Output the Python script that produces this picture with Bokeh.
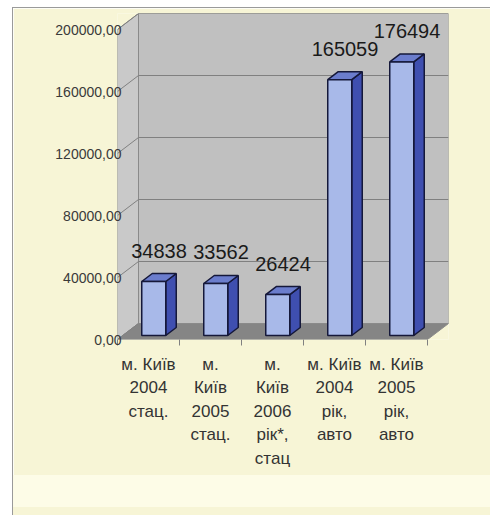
from bokeh.plotting import figure
from bokeh.models import Range1d, FixedTicker, Div
from bokeh.layouts import column
from bokeh.embed import file_html
from bokeh.resources import INLINE
from bokeh.core.properties import value

# ---- data ----
categories = ["м. Київ 2004 стац.", "м. Київ 2005 стац.", "м. Київ 2006 рік*, стац",
              "м. Київ 2004 рік, авто", "м. Київ 2005 рік, авто"]
category_labels = ["м. Київ\n2004\nстац.", "м.\nКиїв\n2005\nстац.", "м.\nКиїв\n2006\nрік*,\nстац",
                   "м. Київ\n2004\nрік,\nавто", "м. Київ\n2005\nрік,\nавто"]
values = [34838, 33562, 26424, 165059, 176494]
y_ticks = [0, 40000, 80000, 120000, 160000, 200000]
y_tick_labels = ["0,00", "40000,00", "80000,00", "120000,00", "160000,00", "200000,00"]

# ---- geometry / style constants ----
FIG_W, FIG_H = 477, 467
B_LEFT, B_RIGHT, B_TOP, B_BOTTOM = 104, 42, 5, 136
FRAME_W, FRAME_H = FIG_W - B_LEFT - B_RIGHT, FIG_H - B_TOP - B_BOTTOM
DEPTH_PX_X, DEPTH_PX_Y = 21, 16
BAR_W = 0.387
BAR_FRONT = 0.25
BAR_DEPTH = 0.5
BG = "#F7F5D6"
BAND = "#FDFCE7"

n = len(categories)
px_x = (FRAME_W - DEPTH_PX_X) / n
dx = DEPTH_PX_X / px_x
y_top = y_ticks[-1]
px_y = (FRAME_H - DEPTH_PX_Y) / y_top
dy = DEPTH_PX_Y / px_y

p = figure(width=FIG_W, height=FIG_H, output_backend="svg", toolbar_location=None,
           x_range=Range1d(0, n + dx), y_range=Range1d(0, y_top + dy),
           min_border_left=B_LEFT, min_border_right=B_RIGHT,
           min_border_top=B_TOP, min_border_bottom=B_BOTTOM, margin=0)
p.background_fill_color = BG
p.border_fill_color = BG
p.outline_line_color = None
p.xgrid.visible = False
p.ygrid.visible = False

# walls and floor
p.patch([0, 0, dx, dx], [0, y_top, y_top + dy, dy], fill_color="#C9C9C9", line_color="#8a8a8a", line_width=1)
p.quad(left=[dx], right=[n + dx], bottom=[dy], top=[y_top + dy], fill_color="#C0C0C0",
       line_color="#8a8a8a", line_width=1)
p.patch([0, n, n + dx, dx], [0, 0, dy, dy], fill_color="#858585", line_color="#8a8a8a", line_width=1)

grid_vals = [t for t in y_ticks if t > 0]
p.segment(x0=[dx] * len(grid_vals), y0=[t + dy for t in grid_vals],
          x1=[n + dx] * len(grid_vals), y1=[t + dy for t in grid_vals], line_color="#808080", line_width=1)
p.segment(x0=[0] * len(y_ticks), y0=y_ticks, x1=[dx] * len(y_ticks), y1=[t + dy for t in y_ticks],
          line_color="#808080", line_width=1)

# bars
centers = [i + 0.5 for i in range(n)]
lefts = [c - BAR_W / 2 + BAR_FRONT * dx for c in centers]
rights = [c + BAR_W / 2 + BAR_FRONT * dx for c in centers]
bottom = BAR_FRONT * dy
tops = [v + bottom for v in values]
bdx, bdy = BAR_DEPTH * dx, BAR_DEPTH * dy

side_xs = [[r, r + bdx, r + bdx, r] for r in rights]
side_ys = [[bottom, bottom + bdy, t + bdy, t] for t in tops]
top_xs = [[l, r, r + bdx, l + bdx] for l, r in zip(lefts, rights)]
top_ys = [[t, t, t + bdy, t + bdy] for t in tops]

outline = dict(line_color="#15183a", line_width=1.5)
p.patches(side_xs, side_ys, fill_color="#3F4FB0", **outline)
p.patches(top_xs, top_ys, fill_color="#6B7DCD", **outline)
p.quad(left=lefts, right=rights, bottom=[bottom] * n, top=tops, fill_color="#A8B9E9", **outline)

# data labels
p.text(x=[c + BAR_FRONT * dx + bdx / 2 for c in centers], y=tops, text=[str(v) for v in values],
       text_align="center", text_baseline="middle", y_offset=-31,
       text_font=value("Liberation Sans"), text_font_size="20px", text_color="#1a1a1a")

# axes
p.yaxis.ticker = FixedTicker(ticks=y_ticks)
p.yaxis.major_label_overrides = dict(zip(y_ticks, y_tick_labels))
p.yaxis.axis_line_color = None
p.yaxis.major_tick_out = 0
p.yaxis.major_tick_in = 0
p.yaxis.minor_tick_out = 0
p.yaxis.minor_tick_in = 0
p.yaxis.major_label_standoff = -4
p.yaxis.major_label_text_font = "Liberation Sans"
p.yaxis.major_label_text_font_size = "14px"
p.yaxis.major_label_text_color = "#3a3a3a"

p.xaxis.ticker = FixedTicker(ticks=centers, minor_ticks=list(range(n + 1)))
p.xaxis.major_label_overrides = dict(zip(centers, category_labels))
p.xaxis.axis_line_color = None
p.xaxis.major_tick_out = 0
p.xaxis.major_tick_in = 0
p.xaxis.minor_tick_out = 6
p.xaxis.minor_tick_in = 0
p.xaxis.minor_tick_line_color = "#808080"
p.xaxis.major_label_standoff = 9
p.xaxis.major_label_text_font = "Liberation Sans"
p.xaxis.major_label_text_font_size = "17px"
p.xaxis.major_label_text_color = "#333333"
p.xaxis.major_label_text_line_height = 1.24

band = Div(width=FIG_W, height=32, margin=0, styles={"background-color": BAND})
tail = Div(width=FIG_W, height=8, margin=0, styles={"background-color": BG})
layout = column(p, band, tail, spacing=0, margin=(7, 0, 0, 12),
                styles={"border-left": "1px solid #9a9a9a", "border-top": "1px solid #9a9a9a"})

open("out.html", "w").write(file_html(layout, INLINE))
